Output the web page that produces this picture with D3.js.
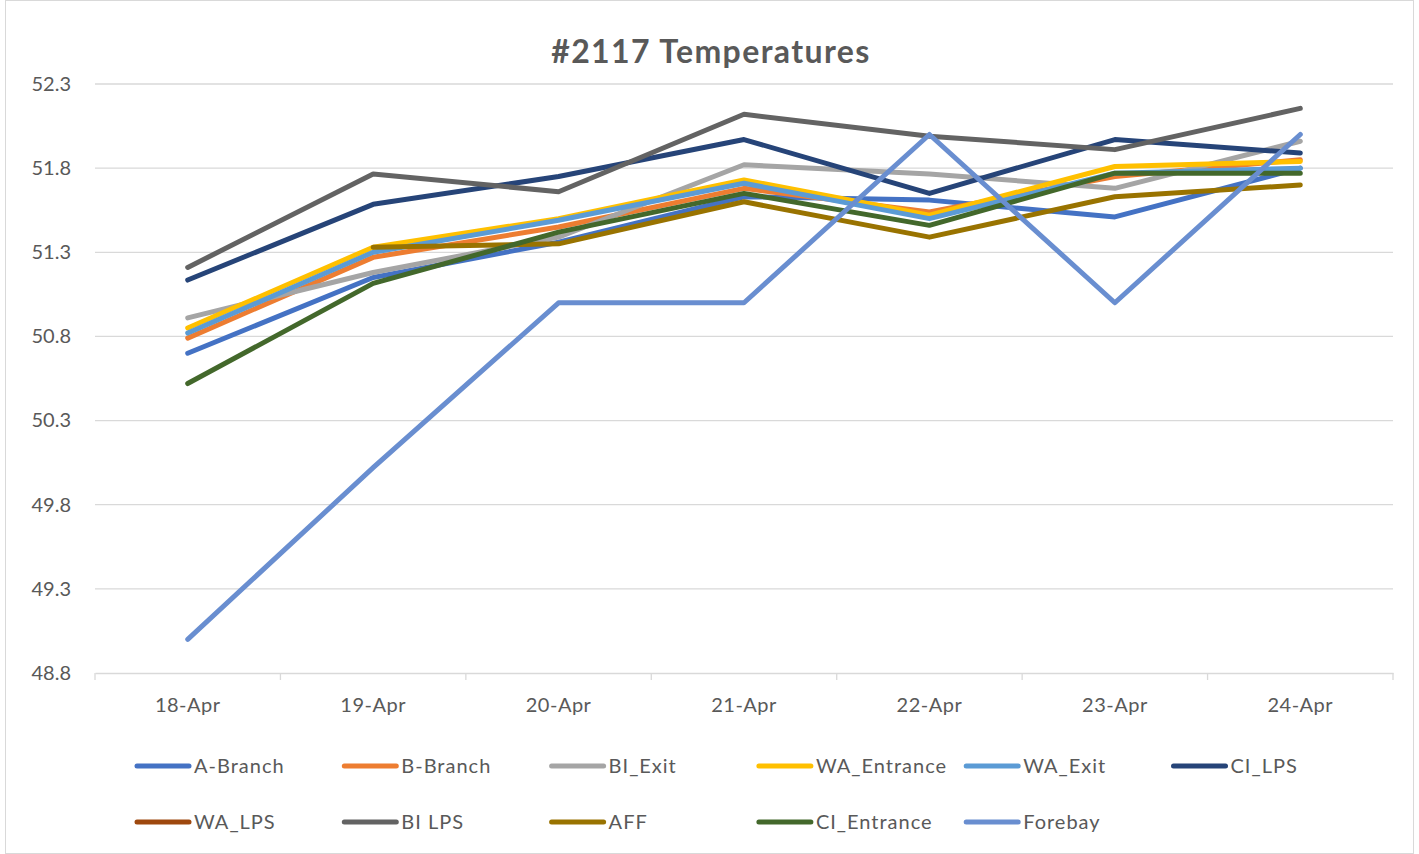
<!DOCTYPE html>
<html>
<head>
<meta charset="utf-8">
<script src="https://cdn.jsdelivr.net/npm/d3@7"></script>
<style>
  body { margin: 0; background: #fff; }
  text { font-family: Lato, "Open Sans", sans-serif; fill: #595959; }
</style>
</head>
<body>
<svg id="chart" width="1419" height="854"></svg>
<script>
const days = ['18-Apr', '19-Apr', '20-Apr', '21-Apr', '22-Apr', '23-Apr', '24-Apr']
const yTicks = [48.8, 49.3, 49.8, 50.3, 50.8, 51.3, 51.8, 52.3]

const aBranch    = [50.70, 51.15, 51.36, 51.63, 51.61, 51.51, 51.80]
const bBranch    = [50.79, 51.27, 51.45, 51.68, 51.54, 51.75, 51.85]
const biExit     = [50.91, 51.18, 51.39, 51.82, 51.765, 51.68, 51.96]
const waEntrance = [50.85, 51.33, 51.50, 51.73, 51.52, 51.81, 51.84]
const waExit     = [50.82, 51.30, 51.49, 51.71, 51.50, 51.77, 51.80]
const ciLps      = [51.135, 51.585, 51.75, 51.97, 51.65, 51.97, 51.89]
const waLps      = [null, null, null, null, null, null, null]
const biLps      = [51.21, 51.765, 51.66, 52.12, 51.99, 51.91, 52.155]
const aff        = [null, 51.33, 51.35, 51.60, 51.39, 51.63, 51.70]
const ciEntrance = [50.52, 51.115, 51.42, 51.65, 51.46, 51.77, 51.77]
const forebay    = [49.00, 50.02, 51.00, 51.00, 52.00, 51.00, 52.00]

const series = [
    {name: 'A-Branch', color: '#4472C4', values: aBranch},
    {name: 'B-Branch', color: '#ED7D31', values: bBranch},
    {name: 'BI_Exit', color: '#A5A5A5', values: biExit},
    {name: 'WA_Entrance', color: '#FFC000', values: waEntrance},
    {name: 'WA_Exit', color: '#5B9BD5', values: waExit},
    {name: 'CI_LPS', color: '#264478', values: ciLps},
    {name: 'WA_LPS', color: '#9E480E', values: waLps},
    {name: 'BI LPS', color: '#636363', values: biLps},
    {name: 'AFF', color: '#997300', values: aff},
    {name: 'CI_Entrance', color: '#43682B', values: ciEntrance},
    {name: 'Forebay', color: '#698ED0', values: forebay}
]

const margin = {left: 95, right: 26, top: 84, bottom: 181}
const W = 1419, H = 854

const svg = d3.select('#chart')

// chart border
svg.append('rect')
    .attr('x', 5.5).attr('y', 0.5)
    .attr('width', W - 11).attr('height', H - 1)
    .attr('fill', '#fff')
    .attr('stroke', '#D9D9D9')

const x = d3.scaleBand()
    .domain(days)
    .range([margin.left, W - margin.right])

const y = d3.scaleLinear()
    .domain([48.8, 52.3])
    .range([H - margin.bottom, margin.top])

// gridlines
svg.append('g')
    .selectAll('line')
    .data(yTicks.slice(1))
    .join('line')
    .attr('x1', margin.left).attr('x2', W - margin.right)
    .attr('y1', d => y(d)).attr('y2', d => y(d))
    .attr('stroke', '#D9D9D9')
    .attr('stroke-width', 1.3)

// y axis labels
const yAxis = svg.append('g')
    .attr('transform', 'translate(' + margin.left + ',0)')
    .call(d3.axisLeft(y).tickValues(yTicks).tickFormat(d3.format('.1f')).tickSize(0).tickPadding(24))
yAxis.select('.domain').remove()
yAxis.selectAll('text').attr('font-size', 20).style('fill', '#595959')
    .style('font-family', 'Lato, sans-serif')

// x axis
const xAxis = svg.append('g')
    .attr('transform', 'translate(0,' + y(48.8) + ')')
    .call(d3.axisBottom(x).tickSize(0).tickPadding(25))
xAxis.select('.domain').attr('stroke', '#D9D9D9').attr('stroke-width', 1.3)
xAxis.selectAll('text').attr('font-size', 20).style('fill', '#595959')
    .style('font-family', 'Lato, sans-serif')
    .style('letter-spacing', '0.5px')
xAxis.selectAll('.sep')
    .data(d3.range(days.length + 1))
    .join('line')
    .attr('class', 'sep')
    .attr('x1', i => margin.left + i * x.step()).attr('x2', i => margin.left + i * x.step())
    .attr('y1', 0).attr('y2', 7)
    .attr('stroke', '#D9D9D9')
    .attr('stroke-width', 1.3)

// lines
const line = d3.line()
    .defined(d => d != null)
    .x((d, i) => x(days[i]) + x.bandwidth() / 2)
    .y(d => y(d))

svg.append('g')
    .selectAll('path')
    .data(series)
    .join('path')
    .attr('fill', 'none')
    .attr('stroke', d => d.color)
    .attr('stroke-width', 5)
    .attr('stroke-linecap', 'round')
    .attr('stroke-linejoin', 'round')
    .attr('d', d => line(d.values))

// title
svg.append('text')
    .attr('x', 711).attr('y', 63)
    .attr('text-anchor', 'middle')
    .attr('font-size', 32)
    .attr('font-weight', 'bold')
    .style('letter-spacing', '1.4px')
    .text('#2117 Temperatures')

// legend
const legend = svg.append('g')
    .selectAll('g')
    .data(series)
    .join('g')
    .attr('transform', (d, i) => 'translate(' + (135 + (i % 6) * 207.3) + ',' + (766 + Math.floor(i / 6) * 56) + ')')

legend.append('line')
    .attr('x1', 2).attr('x2', 54)
    .attr('stroke', d => d.color)
    .attr('stroke-width', 5)
    .attr('stroke-linecap', 'round')

legend.append('text')
    .attr('x', 59).attr('y', 7)
    .attr('font-size', 20)
    .style('letter-spacing', '1px')
    .text(d => d.name)
</script>
</body>
</html>
